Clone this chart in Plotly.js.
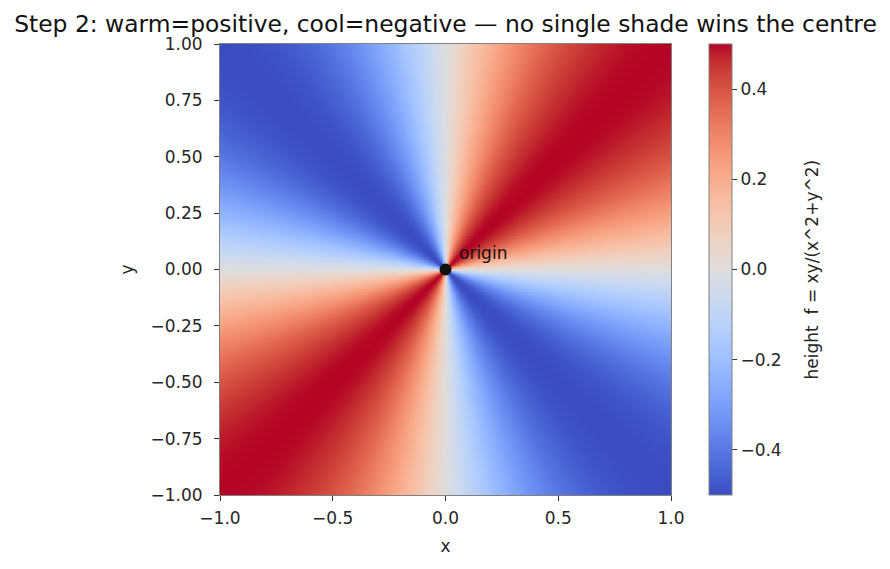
<!DOCTYPE html>
<html><head><meta charset="utf-8">
<script src="https://cdn.plot.ly/plotly-3.0.1.min.js"></script>
<style>html,body{margin:0;padding:0;background:#fff}#c{width:890px;height:569px}</style>
</head><body><div id="c"></div>
<script>
// grid coordinates
const xs = [];
const ys = [];
const N = 301;
for (let i = 0; i < N; i++) { xs.push(-1 + 2 * i / (N - 1)); ys.push(-1 + 2 * i / (N - 1)); }
// height field as labelled on the colourbar: f = xy/(x^2+y^2)
const zs = ys.map(y => xs.map(x => { const r = x * x + y * y; return r === 0 ? 0 : x * y / r; }));

const xTicks = [-1.0, -0.5, 0.0, 0.5, 1.0];
const yTicks = [-1.0, -0.75, -0.5, -0.25, 0.0, 0.25, 0.5, 0.75, 1.0];
const cbTicks = [-0.4, -0.2, 0.0, 0.2, 0.4];
const originPoint = {x: [0], y: [0], label: 'origin'};

const coolwarm = [
[0.0,'rgb(59,76,192)'],[0.03125,'rgb(68,90,204)'],[0.0625,'rgb(77,104,215)'],[0.09375,'rgb(87,117,225)'],
[0.125,'rgb(98,130,234)'],[0.15625,'rgb(108,142,241)'],[0.1875,'rgb(119,154,247)'],[0.21875,'rgb(130,165,251)'],
[0.25,'rgb(141,176,254)'],[0.28125,'rgb(152,185,255)'],[0.3125,'rgb(163,194,255)'],[0.34375,'rgb(174,201,253)'],
[0.375,'rgb(184,208,249)'],[0.40625,'rgb(194,213,244)'],[0.4375,'rgb(204,217,238)'],[0.46875,'rgb(213,219,230)'],
[0.5,'rgb(221,221,221)'],[0.53125,'rgb(229,216,209)'],[0.5625,'rgb(236,211,197)'],[0.59375,'rgb(241,204,185)'],
[0.625,'rgb(245,196,173)'],[0.65625,'rgb(247,187,160)'],[0.6875,'rgb(247,177,148)'],[0.71875,'rgb(247,166,135)'],
[0.75,'rgb(244,154,123)'],[0.78125,'rgb(241,141,111)'],[0.8125,'rgb(236,127,99)'],[0.84375,'rgb(229,112,88)'],
[0.875,'rgb(222,96,77)'],[0.90625,'rgb(213,80,66)'],[0.9375,'rgb(203,62,56)'],[0.96875,'rgb(192,40,47)'],
[1.0,'rgb(180,4,38)']];

const font = {family: 'DejaVu Sans, sans-serif', size: 17, color: '#262626'};

const traces = [
{
  type: 'heatmap', x: xs, y: ys, z: zs, zmin: -0.5, zmax: 0.5,
  colorscale: coolwarm, zsmooth: 'best', hoverinfo: 'skip',
  colorbar: {
    x: 1.084, xanchor: 'left', y: 0.5, yanchor: 'middle', len: 1, lenmode: 'fraction',
    thickness: 23, thicknessmode: 'pixels', outlinecolor: '#808080', outlinewidth: 1,
    tickvals: cbTicks, tickformat: '.1f', ticks: 'outside', ticklen: 5, tickcolor: '#333',
    tickprefix: '\u2002', tickfont: font, xpad: 0, ypad: 0
  }
},
{
  type: 'scatter', mode: 'markers', x: originPoint.x, y: originPoint.y,
  marker: {color: '#111', size: 12}, hoverinfo: 'skip', showlegend: false
}
];

const layout = {
  width: 890, height: 569,
  margin: {l: 220, r: 219, t: 44, b: 74},
  paper_bgcolor: '#fff', plot_bgcolor: '#fff',
  font: font,
  title: {text: 'Step 2: warm=positive, cool=negative — no single shade wins the centre',
          x: 0.5, xref: 'paper', xanchor: 'center', y: 0.958, yref: 'container', yanchor: 'middle',
          font: {family: 'DejaVu Sans, sans-serif', size: 23.4, color: '#111'}},
  xaxis: {range: [-1, 1], tickvals: xTicks, tickformat: '.1f', ticks: 'outside', ticklen: 5,
          tickcolor: '#333', showline: true, mirror: true, linecolor: '#808080', linewidth: 1,
          showgrid: false, zeroline: false, tickfont: font, ticklabelstandoff: 3,
          title: {text: 'x', font: font, standoff: 12}},
  yaxis: {range: [-1, 1], tickvals: yTicks, tickformat: '.2f', ticks: 'outside', ticklen: 5,
          tickcolor: '#333', showline: true, mirror: true, linecolor: '#808080', linewidth: 1,
          showgrid: false, zeroline: false, tickfont: font, ticklabelstandoff: 8,
          title: {text: 'y', font: font, standoff: 12}},
  annotations: [
    {x: 0.05, y: 0.073, xref: 'x', yref: 'y', text: originPoint.label, showarrow: false,
     xanchor: 'left', yanchor: 'middle', font: {family: 'DejaVu Sans, sans-serif', size: 17, color: '#111'}},
    {x: 1.3126, y: 0.5, xref: 'paper', yref: 'paper', text: 'height  f = xy/(x^2+y^2)', showarrow: false,
     textangle: -90, xanchor: 'center', yanchor: 'middle', font: font}
  ],
  showlegend: false
};

Plotly.newPlot('c', traces, layout, {displayModeBar: false, staticPlot: true});
</script></body></html>
